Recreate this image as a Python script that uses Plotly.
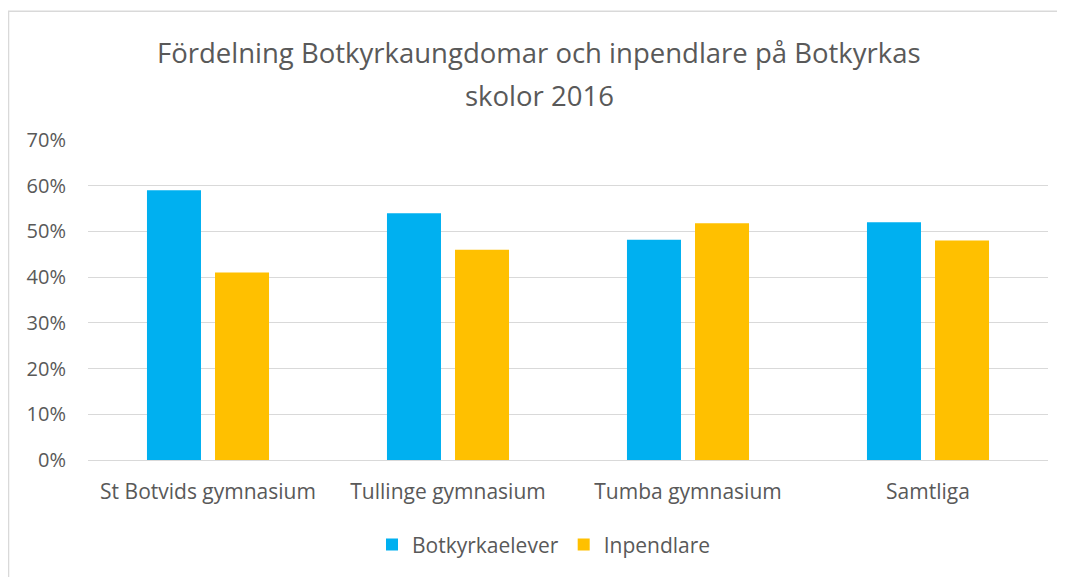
import plotly.graph_objects as go

categories = ["St Botvids gymnasium", "Tullinge gymnasium", "Tumba gymnasium", "Samtliga"]
botkyrka = [0.59, 0.54, 0.482, 0.52]
inpendlare = [0.41, 0.46, 0.518, 0.48]
yticks = [0, 0.1, 0.2, 0.3, 0.4, 0.5, 0.6, 0.7]
yticklabels = ["0%", "10%", "20%", "30%", "40%", "50%", "60%", "70%"]
title_lines = ["Fördelning Botkyrkaungdomar och inpendlare på Botkyrkas", "skolor 2016"]

font = "Open Sans, sans-serif"
grey = "#595959"

fig = go.Figure()
fig.add_trace(go.Bar(name="Botkyrkaelever", x=categories, y=botkyrka,
                     marker=dict(color="#00B0F0", line=dict(width=0))))
fig.add_trace(go.Bar(name="Inpendlare", x=categories, y=inpendlare,
                     marker=dict(color="#FFC000", line=dict(width=0))))

fig.update_layout(
    width=1057, height=569,
    paper_bgcolor="white", plot_bgcolor="white",
    margin=dict(l=80, r=17, t=132, b=114),
    barmode="group", bargap=0.433, bargroupgap=0.206,
    font=dict(family=font, color=grey, size=20),
    legend=dict(orientation="h", x=0.475, xanchor="center", y=-0.265, yanchor="middle",
                font=dict(size=21, color=grey), itemwidth=30),
    showlegend=True,
    annotations=[
        dict(text=title_lines[0], xref="paper", yref="paper", x=0.47, y=1.2724,
             xanchor="center", yanchor="middle", showarrow=False,
             font=dict(family=font, size=27.5, color=grey)),
        dict(text=title_lines[1], xref="paper", yref="paper", x=0.47, y=1.1393,
             xanchor="center", yanchor="middle", showarrow=False,
             font=dict(family=font, size=27.5, color=grey)),
    ],
    shapes=[dict(type="rect", xref="paper", yref="paper",
                 x0=-0.0828, x1=1.05, y0=-0.5, y1=1.4025,
                 line=dict(color="#D9D9D9", width=1.5), fillcolor="rgba(0,0,0,0)", layer="below")],
)
fig.update_yaxes(range=[0, 0.7], tickvals=yticks, ticktext=yticklabels,
                 showgrid=True, gridcolor="#D9D9D9", gridwidth=1.3,
                 zeroline=True, zerolinecolor="#D9D9D9", zerolinewidth=1.3,
                 showline=False, ticks="", ticklen=0, ticklabelstandoff=21,
                 tickfont=dict(size=20, color=grey))
fig.update_xaxes(showline=False, ticks="", ticklabelstandoff=17,
                 tickfont=dict(size=21, color=grey))

fig.write_html("out.html")
